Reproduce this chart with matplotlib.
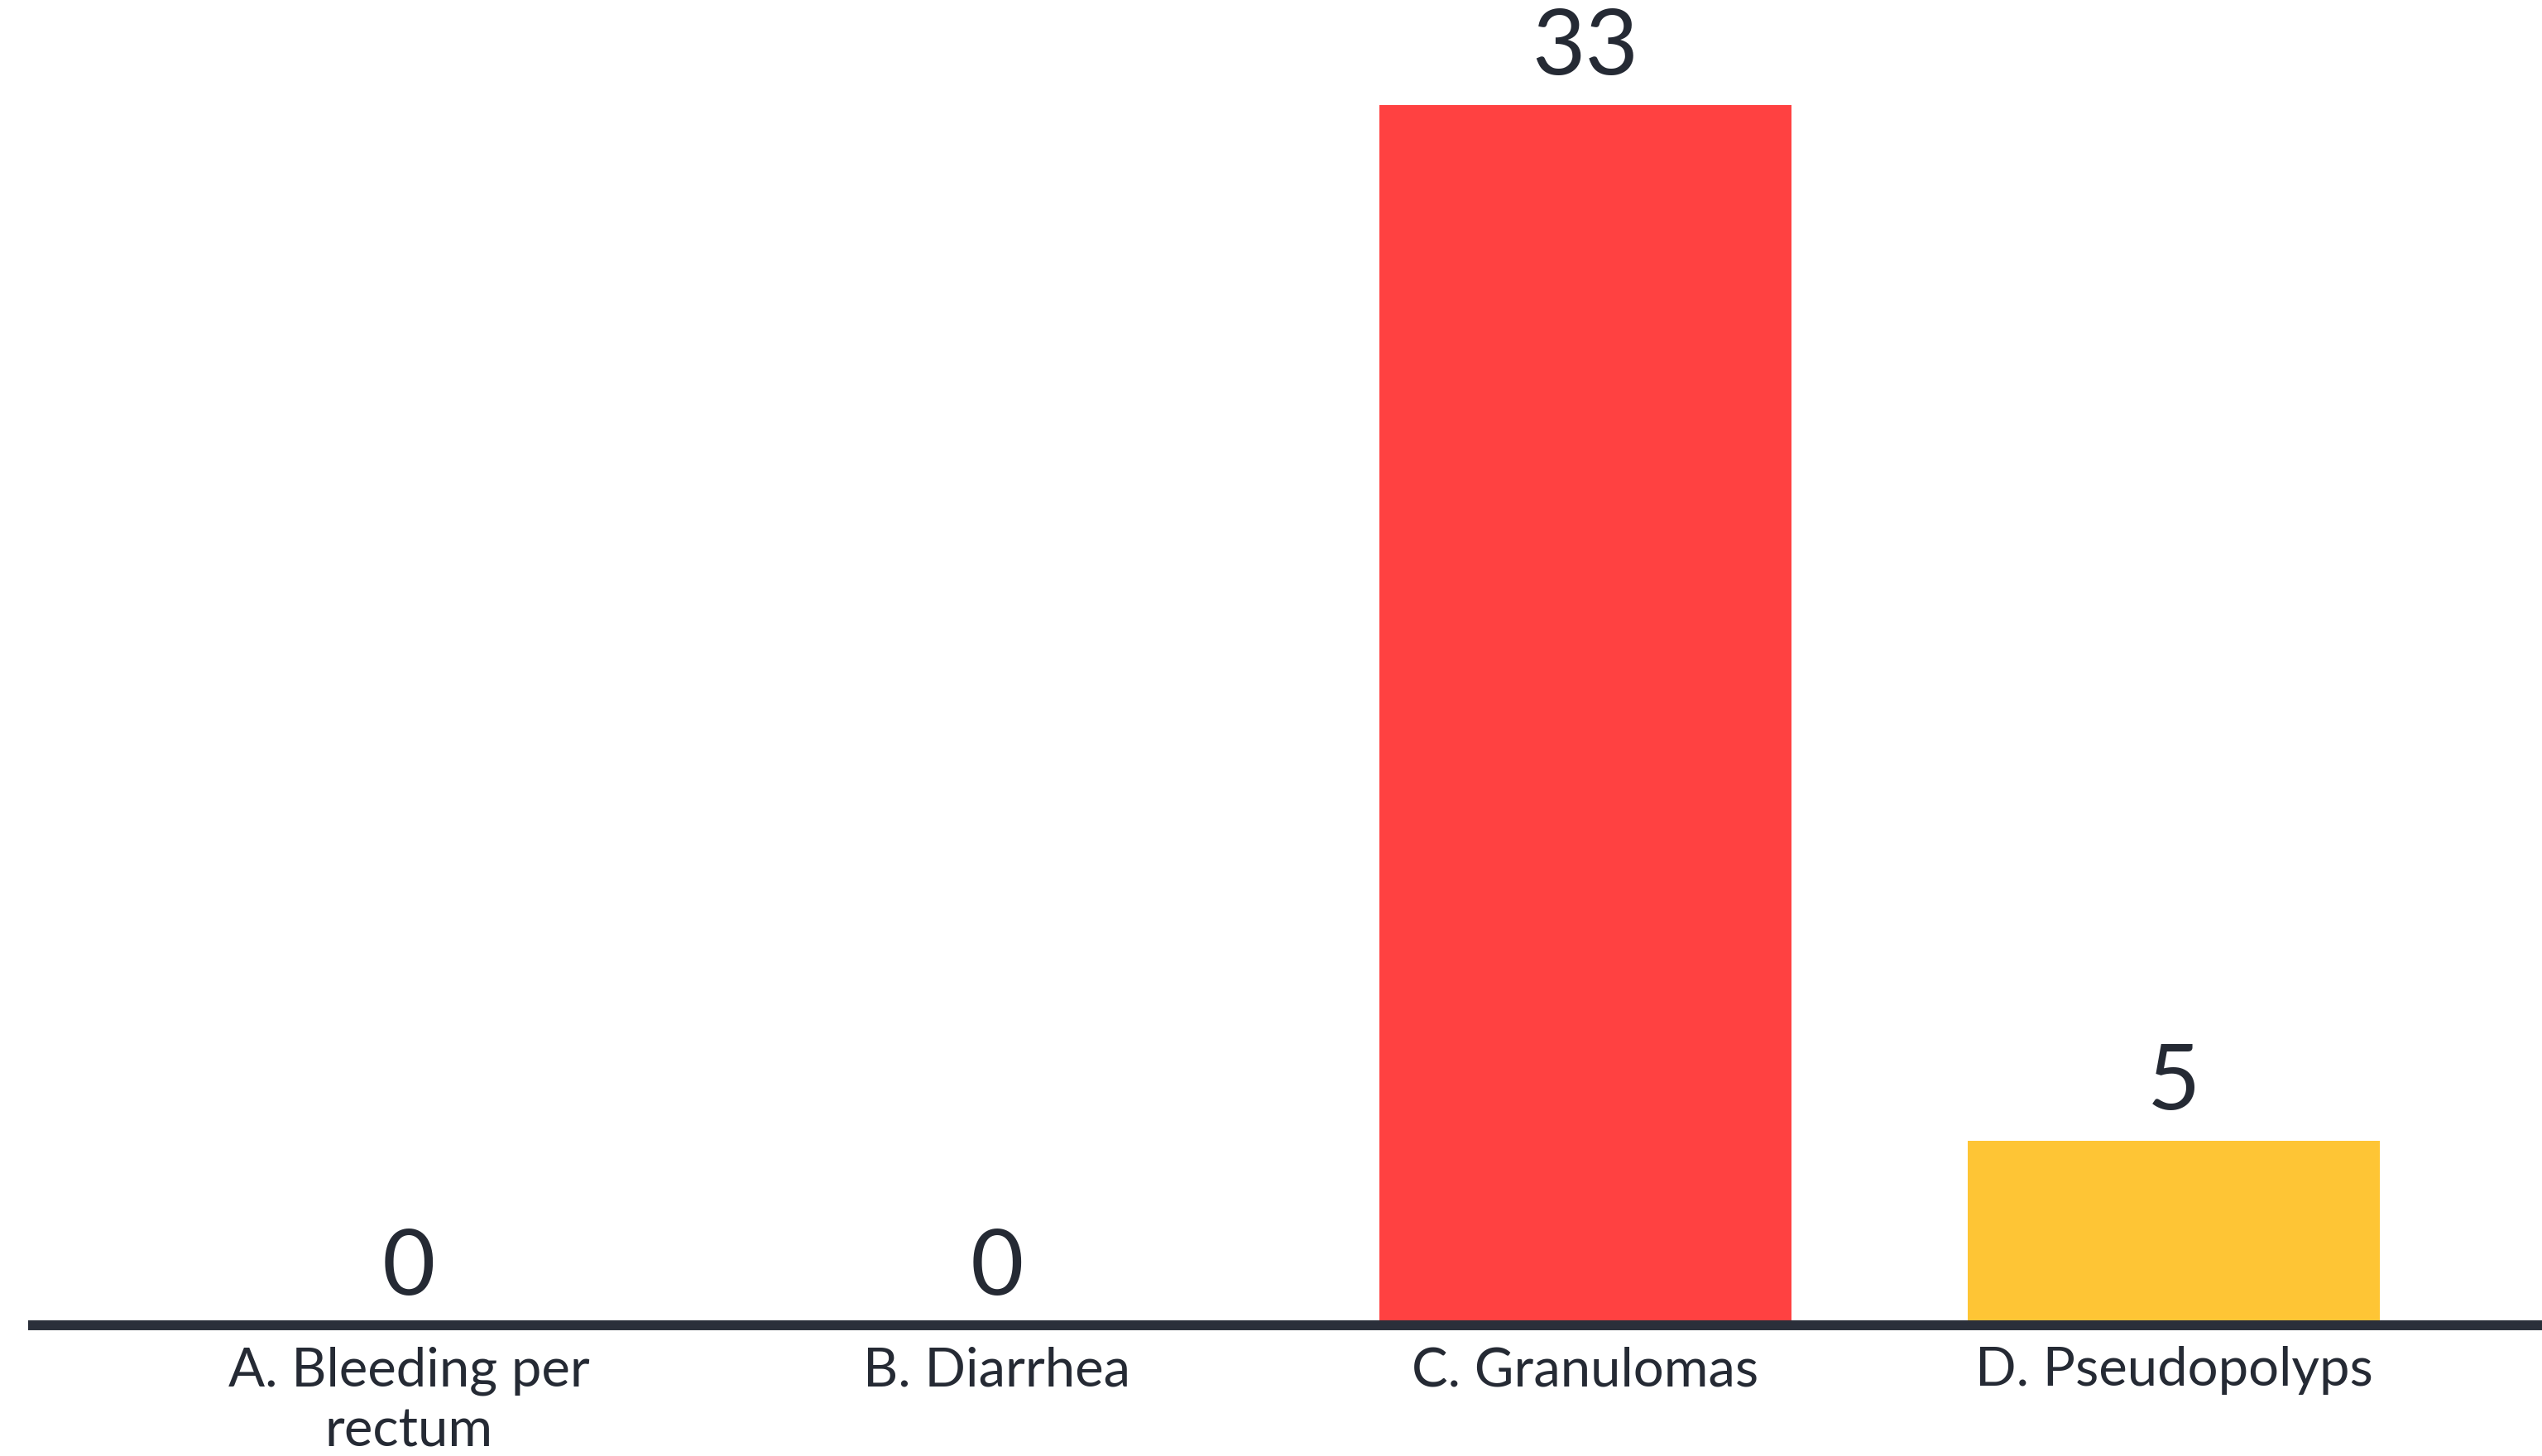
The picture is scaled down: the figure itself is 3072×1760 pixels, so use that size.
import matplotlib
matplotlib.use("Agg")
import matplotlib.pyplot as plt

# Survey results: count of responses per option
categories = ["A. Bleeding per\nrectum", "B. Diarrhea", "C. Granulomas", "D. Pseudopolyps"]
counts = [0, 0, 33, 5]
bar_colors = ["#FF4141", "#FF4141", "#FF4141", "#FEC535"]

TEXT = "#252A34"
plt.rcParams["font.family"] = ["Lato", "DejaVu Sans"]

fig = plt.figure(figsize=(30.72, 17.6), dpi=100)
fig.patch.set_facecolor("white")
ax = fig.add_axes([34 / 3072, 158 / 1760, 3038 / 3072, 1602 / 1760])

x = list(range(len(categories)))
bars = ax.bar(x, counts, width=0.7, color=bar_colors, zorder=1)

ax.set_xlim(-0.647, 3.626)
ax.set_ylim(0, 35.84)

ax.bar_label(bars, labels=[str(v) for v in counts], padding=13,
             fontsize=80, color=TEXT)

ax.set_xticks(x)
ax.set_xticklabels(categories, fontsize=47, color=TEXT, linespacing=1.3)
ax.tick_params(axis="x", length=0, pad=18)
ax.tick_params(axis="y", left=False, labelleft=False)

for side in ("top", "right", "left"):
    ax.spines[side].set_visible(False)
ax.spines["bottom"].set_color("#2A2F3A")
ax.spines["bottom"].set_linewidth(8.6)
ax.spines["bottom"].set_capstyle("butt")
ax.spines["bottom"].set_zorder(3)
ax.set_facecolor("white")

fig.savefig("out.png", dpi=100, facecolor="white")
